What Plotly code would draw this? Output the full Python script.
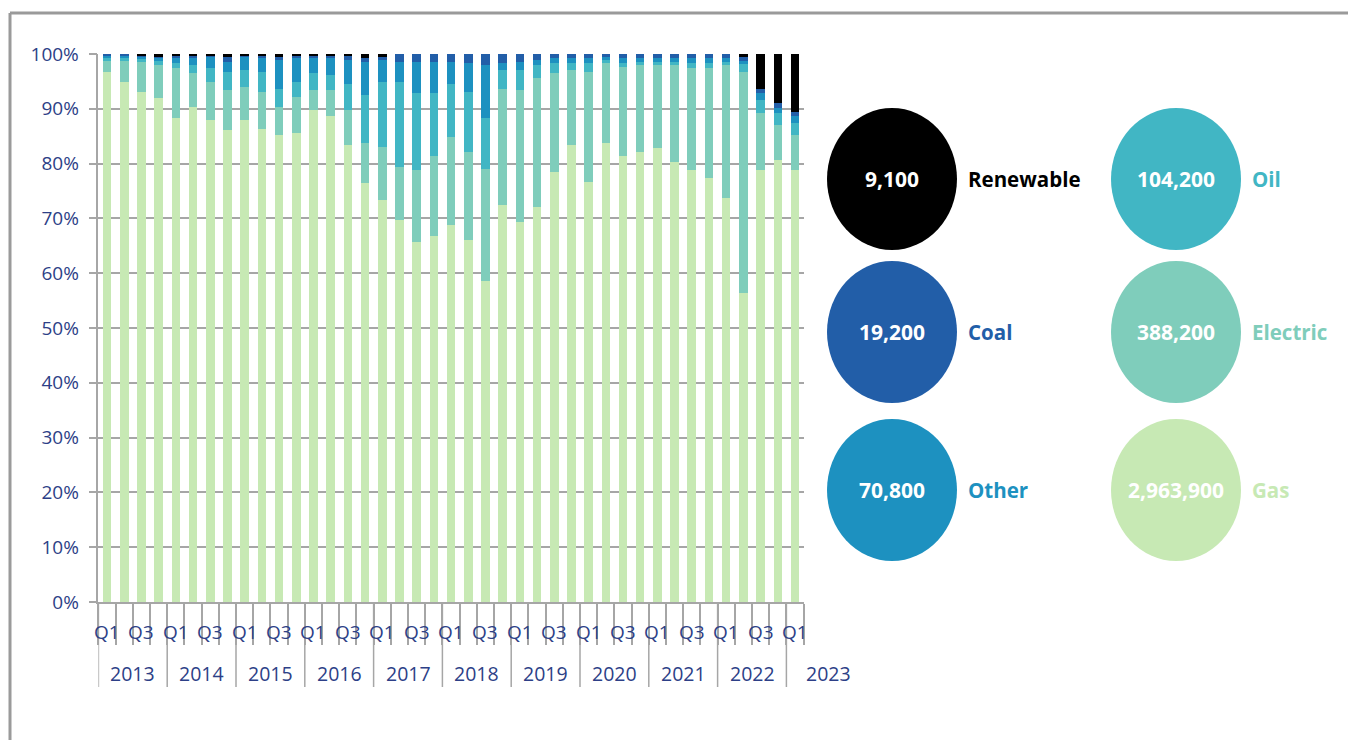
import plotly.graph_objects as go

# ---------------- data ----------------
years = [2013]*4 + [2014]*4 + [2015]*4 + [2016]*4 + [2017]*4 + [2018]*4 + \
        [2019]*4 + [2020]*4 + [2021]*4 + [2022]*4 + [2023]
quarters = ["Q1", "Q2", "Q3", "Q4"]*10 + ["Q1"]

gas = [96.8, 94.9, 93.1, 91.9, 88.3, 90.4, 88.0, 86.1, 88.0, 86.4, 85.2, 85.5, 89.8, 88.6,
       83.4, 76.4, 73.4, 69.7, 65.7, 66.7, 68.8, 66.1, 58.5, 72.4, 69.4, 72.1, 78.5, 83.4,
       76.7, 83.7, 81.3, 82.2, 82.8, 80.3, 78.8, 77.3, 73.7, 56.3, 78.8, 80.7, 78.8]
electric = [2.1, 4.0, 5.5, 6.1, 9.1, 6.1, 6.9, 7.3, 6.0, 6.7, 5.2, 6.7, 3.6, 4.8,
            6.4, 7.3, 9.7, 9.7, 13.1, 14.6, 16.1, 16.1, 20.6, 21.3, 24.0, 23.5, 18.0, 13.7,
            20.1, 14.6, 16.4, 15.8, 15.2, 17.7, 18.6, 20.1, 24.3, 40.5, 10.4, 6.3, 6.4]
oil = [0.3, 0.3, 0.5, 0.8, 0.9, 1.5, 2.5, 3.4, 3.1, 3.7, 3.3, 2.7, 3.1, 2.8,
       4.8, 8.8, 11.8, 15.5, 14.0, 11.5, 9.7, 10.9, 9.2, 3.4, 3.7, 2.4, 1.8, 1.2,
       1.5, 0.6, 0.6, 0.6, 0.6, 0.6, 0.9, 0.9, 0.6, 1.3, 2.4, 2.2, 2.2]
other = [0.5, 0.5, 0.4, 0.5, 0.9, 1.2, 2.1, 1.8, 2.4, 2.4, 5.2, 4.5, 2.7, 3.0,
         4.3, 6.1, 4.0, 3.7, 5.8, 5.8, 4.0, 5.2, 9.7, 1.2, 1.5, 0.9, 0.9, 0.9,
         0.9, 0.6, 0.9, 0.6, 0.6, 0.6, 0.9, 0.9, 0.6, 0.6, 1.2, 0.9, 1.2]
coal = [0.3, 0.3, 0.2, 0.2, 0.4, 0.4, 0.3, 0.9, 0.2, 0.4, 0.6, 0.2, 0.4, 0.4,
        0.7, 0.6, 0.6, 1.4, 1.4, 1.4, 1.4, 1.7, 2.0, 1.7, 1.4, 1.1, 0.8, 0.8,
        0.8, 0.5, 0.8, 0.8, 0.8, 0.8, 0.8, 0.8, 0.8, 0.7, 0.9, 0.9, 0.9]
renewable = [0, 0, 0.3, 0.5, 0.4, 0.4, 0.2, 0.5, 0.3, 0.4, 0.5, 0.4, 0.4, 0.4,
             0.4, 0.8, 0.5] + [0]*20 + [0.6, 6.3, 9.0, 10.5]

series_names = ["Gas", "Electric", "Oil", "Other", "Coal", "Renewable"]
series_colors = ["#c7e9b4", "#7fcdbb", "#41b6c4", "#1d91c0", "#225ea8", "#000000"]

bubble_labels = ["Renewable", "Oil", "Coal", "Electric", "Other", "Gas"]
bubble_totals = [9100, 104200, 19200, 388200, 70800, 2963900]

# ---------------- layout helpers ----------------
W, H = 1348, 740
NAVY = "#2d3f87"
GRID = "#a6a6a6"
FONT = "Open Sans"


def px_x(x):
    return x / W


def px_y(y):
    return (H - y) / H


cats = [f"{y} {q}" for y, q in zip(years, quarters)]
series_values = [gas, electric, oil, other, coal, renewable]

fig = go.Figure()
for name, vals, col in zip(series_names, series_values, series_colors):
    fig.add_trace(go.Bar(x=cats, y=vals, name=name, marker=dict(color=col, line=dict(width=0))))

plot_left, plot_right = 98.4, 803.6
plot_top, plot_bottom = 54, 602

fig.update_layout(
    width=W, height=H,
    margin=dict(l=0, r=0, t=0, b=0, pad=0),
    barmode="stack", barnorm="percent", bargap=0.5,
    plot_bgcolor="white", paper_bgcolor="white",
    showlegend=False,
    font=dict(family=FONT, color=NAVY),
    xaxis=dict(
        domain=[px_x(plot_left), px_x(plot_right)],
        automargin=False,
        type="category", categoryorder="array", categoryarray=cats,
        range=[-0.5, len(cats) - 0.5],
        showticklabels=False,
        ticks="outside", tickson="boundaries", ticklen=41,
        tickcolor=GRID, tickwidth=1.5,
        showline=True, linecolor=GRID, linewidth=1.5,
        showgrid=False, zeroline=False,
    ),
    yaxis=dict(
        domain=[px_y(plot_bottom), px_y(plot_top)],
        automargin=False,
        range=[0, 100], dtick=10, ticksuffix="%",
        showgrid=True, gridcolor=GRID, gridwidth=1.5,
        ticks="outside", ticklen=8, tickcolor=GRID, tickwidth=1.5,
        showline=True, linecolor=GRID, linewidth=1.5,
        zeroline=False,
        tickfont=dict(family=FONT, size=19, color=NAVY),
        ticklabelstandoff=6,
    ),
)

annotations = []
shapes = []

# quarter labels (Q1, Q3)
for c, q in zip(cats, quarters):
    if q in ("Q1", "Q3"):
        annotations.append(dict(x=c, xref="x", y=px_y(632), yref="paper", text=q,
                                showarrow=False, xanchor="center", yanchor="middle",
                                font=dict(family=FONT, size=19, color=NAVY)))

# year labels and dividers
uniq_years = []
for y in years:
    if y not in uniq_years:
        uniq_years.append(y)
for yr in uniq_years:
    idx = [i for i, y in enumerate(years) if y == yr]
    centre = (idx[0] + idx[-1]) / 2
    annotations.append(dict(x=centre, xref="x", y=px_y(673), yref="paper", text=str(yr),
                            showarrow=False, xanchor="center", yanchor="middle",
                            xshift=33 if len(idx) == 1 else 0,
                            font=dict(family=FONT, size=19.5, color=NAVY)))
    shapes.append(dict(type="line", xref="x", yref="paper", x0=idx[0] - 0.5, x1=idx[0] - 0.5,
                       y0=px_y(plot_bottom), y1=px_y(687), line=dict(color=GRID, width=1.5)))

# bubbles
col_cx = [892, 1176]
row_cy = [179, 332, 490]
rx, ry = 65, 71
colour_of = dict(zip(series_names, series_colors))
for k, (lab, tot) in enumerate(zip(bubble_labels, bubble_totals)):
    cx = col_cx[k % 2]
    cy = row_cy[k // 2]
    col = colour_of[lab]
    shapes.append(dict(type="circle", xref="paper", yref="paper",
                       x0=px_x(cx - rx), x1=px_x(cx + rx), y0=px_y(cy + ry), y1=px_y(cy - ry),
                       fillcolor=col, line=dict(width=0), layer="above"))
    annotations.append(dict(x=px_x(cx), y=px_y(cy), xref="paper", yref="paper",
                            text=f"<b>{tot:,}</b>", showarrow=False,
                            xanchor="center", yanchor="middle",
                            font=dict(family=FONT, size=21, color="white")))
    annotations.append(dict(x=px_x(cx + rx + 9), y=px_y(cy), xref="paper", yref="paper",
                            text=f"<b>{lab}</b>", showarrow=False,
                            xanchor="left", yanchor="middle",
                            font=dict(family=FONT, size=20.5, color=col)))

# outer frame (top and left edges)
shapes.append(dict(type="line", xref="paper", yref="paper", x0=px_x(10), x1=1,
                   y0=px_y(13), y1=px_y(13), line=dict(color="#9a9a9a", width=3)))
shapes.append(dict(type="line", xref="paper", yref="paper", x0=px_x(10), x1=px_x(10),
                   y0=0, y1=px_y(13), line=dict(color="#9a9a9a", width=3)))

fig.update_layout(annotations=annotations, shapes=shapes)

fig.write_html("out.html", config=dict(displayModeBar=False),
               post_script="document.body.style.margin='0';")
